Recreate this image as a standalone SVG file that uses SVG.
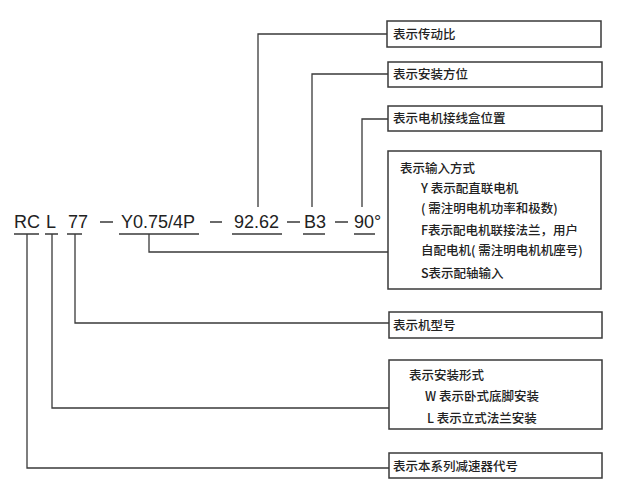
<svg xmlns="http://www.w3.org/2000/svg" width="626" height="499" viewBox="0 0 626 499">
<style>
.box{fill:#fff;stroke:#3a3a3a;stroke-width:1.5}
.ln{fill:none;stroke:#3a3a3a;stroke-width:1.3}
.t{font-family:"Noto Sans CJK SC","Liberation Sans",sans-serif;font-size:12.5px;font-weight:500;fill:#222}
.code{font-family:"Liberation Sans",Arial,sans-serif;font-size:18px;fill:#222}
</style>
<rect width="626" height="499" fill="#fff"/>
<g id="connectors">
<path class="ln" d="M258,207 V34 H388"/>
<path class="ln" d="M312,207 V74 H388"/>
<path class="ln" d="M362,207 V119 H388"/>
<path class="ln" d="M149,234 V252 H388"/>
<path class="ln" d="M75,234 V323 H389"/>
<path class="ln" d="M52,234 V408 H389"/>
<path class="ln" d="M27,234 V468 H389"/>
</g>
<g id="code">
<text class="code" x="14" y="228">RC</text>
<text class="code" x="46" y="228">L</text>
<text class="code" x="68" y="228">77</text>
<text class="code" x="121" y="228">Y0.75/4P</text>
<text class="code" x="234" y="228">92.62</text>
<text class="code" x="304" y="228">B3</text>
<text class="code" x="354" y="228">90°</text>
<path class="ln" d="M14,234 H39 M45,234 H58 M67,234 H82 M119,234 H199 M232,234 H282 M303,234 H325 M354,234 H375"/>
<path class="ln" d="M100,222 H113 M210,222 H222 M287,222 H300 M335,222 H348"/>
</g>
<g id="n-ratio">
<rect class="box" x="387" y="21" width="214" height="26"/>
<text class="t" x="393" y="39">表示传动比</text>
</g>
<g id="n-orient">
<rect class="box" x="388" y="62" width="214" height="25"/>
<text class="t" x="393" y="79">表示安装方位</text>
</g>
<g id="n-terminal">
<rect class="box" x="388" y="106" width="214" height="25"/>
<text class="t" x="393" y="123">表示电机接线盒位置</text>
</g>
<g id="n-input">
<rect class="box" x="388" y="151" width="213" height="138"/>
<text class="t" x="400" y="173">表示输入方式</text>
<text class="t" x="421" y="193">Y 表示配直联电机</text>
<text class="t" x="421" y="213">( 需注明电机功率和极数)</text>
<text class="t" x="421" y="235">F表示配电机联接法兰，用户</text>
<text class="t" x="421" y="255">自配电机( 需注明电机机座号)</text>
<text class="t" x="421" y="278">S表示配轴输入</text>
</g>
<g id="n-model">
<rect class="box" x="389" y="312" width="213" height="26"/>
<text class="t" x="393" y="330">表示机型号</text>
</g>
<g id="n-mount">
<rect class="box" x="389" y="360" width="213" height="69"/>
<text class="t" x="409" y="380">表示安装形式</text>
<text class="t" x="425" y="401">W 表示卧式底脚安装</text>
<text class="t" x="427" y="423">L 表示立式法兰安装</text>
</g>
<g id="n-series">
<rect class="box" x="389" y="453" width="213" height="25"/>
<text class="t" x="393" y="471">表示本系列减速器代号</text>
</g>
</svg>
